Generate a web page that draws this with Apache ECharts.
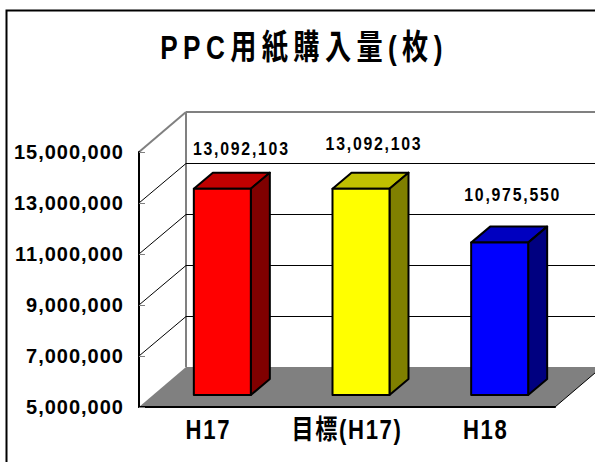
<!DOCTYPE html>
<html>
<head>
<meta charset="utf-8">
<script src="https://cdn.jsdelivr.net/npm/echarts@6/dist/echarts.min.js"></script>
<style>
html, body { margin: 0; padding: 0; background: #fff; }
#chart { width: 595px; height: 462px; }
/* echarts has no letter spacing option, so set it on the svg text */
#chart text { letter-spacing: 1px; }
#chart text[style*="34px"] { letter-spacing: 7px; }
#chart text[style*="27px"] { letter-spacing: 2px; }
#chart text[style*="18px"] { letter-spacing: 2px; }
</style>
</head>
<body>
<div id="chart"></div>
<script>
const categories = ['H17', '目標(H17)', 'H18']
const purchases = [13092103, 13092103, 10975550]
const yTicks = [5000000, 7000000, 9000000, 11000000, 13000000, 15000000]

const barColors = ['#ff0000', '#ffff00', '#0000ff']
const topColors = ['#c00000', '#c0c000', '#0000c0']
const sideColors = ['#800000', '#808000', '#000080']
const labelNudge = [19, 13, 13]
const labelRise = [39, 44, 47]

// fake 3d: offset of the back wall and of the bars
const wallDx = 47
const wallDy = -40
const barShiftX = 14
const barShiftY = -12
const depthX = 19
const depthY = -16
const barWidth = 57

const chart = echarts.init(document.getElementById('chart'), null, { renderer: 'svg' })

function crisp(v) {
  return Math.round(v) + 0.5
}

function line(x1, y1, x2, y2, color, width) {
  return {
    type: 'line',
    shape: { x1, y1, x2, y2 },
    style: { stroke: color, lineWidth: width }
  }
}

function poly(points, fill) {
  return {
    type: 'polygon',
    shape: { points },
    style: { fill, stroke: '#000', lineWidth: 2, lineJoin: 'round' }
  }
}

function renderWall(params, api) {
  const value = api.value(0)
  const rect = params.coordSys
  const y = api.coord([0, value])[1]
  const x0 = rect.x
  const x1 = rect.x + rect.width
  const backY = crisp(y + wallDy)
  const children = []
  if (value === yTicks[0]) {
    children.push({
      type: 'polygon',
      shape: { points: [[x0, y], [x0 + wallDx, y + wallDy], [x1 + wallDx, y + wallDy], [x1, y]] },
      style: { fill: '#808080' }
    })
    children.push(line(x0 + wallDx, y + wallDy, x0 + wallDx, rect.y + wallDy, '#808080', 2))
    children.push(line(x1, y, x1 + wallDx, y + wallDy, '#000', 1))
  } else if (value === yTicks[yTicks.length - 1]) {
    children.push(line(x0, y, x0 + wallDx, y + wallDy, '#808080', 2))
    children.push(line(x0 + wallDx, y + wallDy, x1 + wallDx, y + wallDy, '#808080', 2))
  } else {
    children.push(line(x0, y, x0 + wallDx, backY, '#000', 1))
    children.push(line(x0 + wallDx, backY, x1 + wallDx, backY, '#000', 1))
  }
  return { type: 'group', children }
}

function renderBar(params, api) {
  const i = params.dataIndex
  const top = api.coord([i, api.value(1)])
  const base = api.coord([i, yTicks[0]])
  const l = top[0] + barShiftX - barWidth / 2
  const r = l + barWidth
  const t = top[1] + barShiftY
  const b = base[1] + barShiftY
  return {
    type: 'group',
    children: [
      poly([[l, t], [l + depthX, t + depthY], [r + depthX, t + depthY], [r, t]], topColors[i]),
      poly([[r, t], [r + depthX, t + depthY], [r + depthX, b + depthY], [r, b]], sideColors[i]),
      poly([[l, t], [r, t], [r, b], [l, b]], barColors[i]),
      {
        type: 'text',
        x: top[0] + barShiftX + labelNudge[i],
        y: t - labelRise[i],
        scaleX: 0.88,
        style: {
          text: echarts.format.addCommas(api.value(1)),
          font: 'bold 18px "Liberation Sans"',
          fill: '#000',
          align: 'center',
          verticalAlign: 'middle'
        }
      },
      {
        // category label, drawn here because axisLabel can't be condensed
        type: 'text',
        x: top[0],
        y: base[1] + 23,
        scaleX: 0.82,
        style: {
          text: categories[i],
          font: 'bold 27px "Liberation Sans", "Noto Sans CJK JP"',
          fill: '#000',
          align: 'center',
          verticalAlign: 'middle'
        }
      }
    ]
  }
}

chart.setOption({
  animation: false,
  backgroundColor: '#fff',
  graphic: [{
    type: 'rect',
    shape: { x: 6.5, y: 10.5, width: 700, height: 600 },
    style: { fill: 'none', stroke: '#000', lineWidth: 2 }
  }, {
    type: 'text',
    x: 304,
    y: 47,
    scaleX: 0.77,
    style: {
      text: 'PPC用紙購入量(枚)',
      font: 'bold 34px "Liberation Sans", "Noto Sans CJK JP"',
      fill: '#000',
      align: 'center',
      verticalAlign: 'middle'
    }
  }],
  grid: { left: 139, right: 40, top: 152, bottom: 55 },
  xAxis: {
    type: 'category',
    data: categories,
    z: 5,
    axisLine: { lineStyle: { color: '#000', width: 2 } },
    axisTick: { inside: true, length: 6, lineStyle: { color: '#000' } },
    axisLabel: { show: false }
  },
  yAxis: {
    type: 'value',
    min: 5000000,
    max: 15000000,
    interval: 2000000,
    z: 5,
    splitLine: { show: false },
    axisLine: { show: true, lineStyle: { color: '#000', width: 2 } },
    axisTick: { show: true, inside: true, length: 6, lineStyle: { color: '#808080' } },
    axisLabel: {
      margin: 15,
      padding: [8, 0, 0, 0],
      color: '#000',
      fontFamily: 'Liberation Sans',
      fontWeight: 'bold',
      fontSize: 20,
      formatter: v => echarts.format.addCommas(v)
    }
  },
  series: [{
    type: 'custom',
    coordinateSystem: 'cartesian2d',
    clip: false,
    silent: true,
    z: 1,
    encode: { x: -1, y: 0 },
    data: yTicks,
    renderItem: renderWall
  }, {
    type: 'custom',
    coordinateSystem: 'cartesian2d',
    clip: false,
    z: 2,
    encode: { x: 0, y: 1 },
    data: purchases.map((v, i) => [i, v]),
    renderItem: renderBar
  }]
})
</script>
</body>
</html>
